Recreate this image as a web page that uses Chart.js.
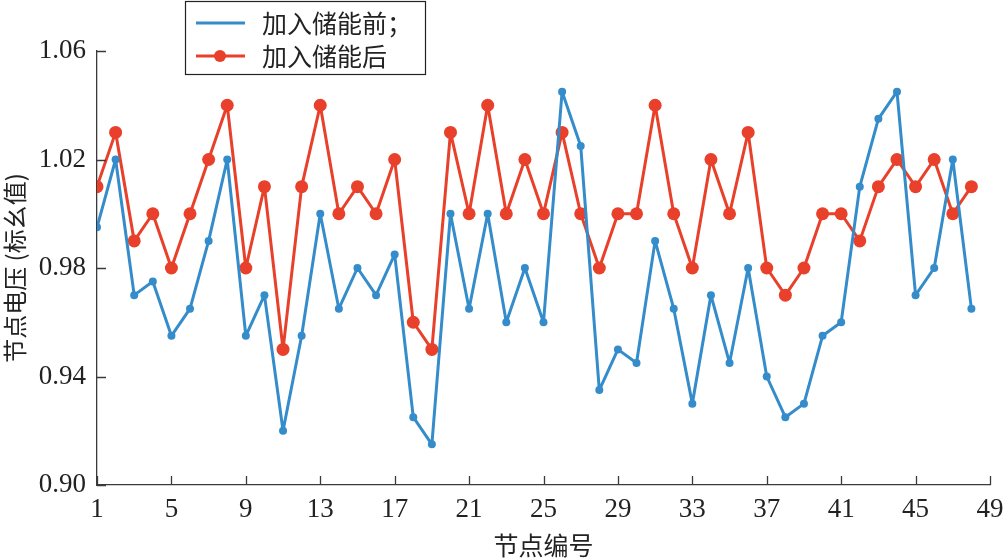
<!DOCTYPE html>
<html>
<head>
<meta charset="utf-8">
<script src="https://cdn.jsdelivr.net/npm/chart.js@4"></script>
<style>
  html, body { margin: 0; padding: 0; background: #fff; }
  #wrap { width: 1007px; height: 560px; position: relative; }
</style>
</head>
<body>
<div id="wrap"><canvas id="voltage"></canvas></div>
<script>
// node numbers and voltages (p.u.)
const nodes = [1, 2, 3, 4, 5, 6, 7, 8, 9, 10, 11, 12, 13, 14, 15, 16,
    17, 18, 19, 20, 21, 22, 23, 24, 25, 26, 27, 28, 29, 30, 31, 32,
    33, 34, 35, 36, 37, 38, 39, 40, 41, 42, 43, 44, 45, 46, 47, 48];

const beforeStorage = [0.995, 1.02, 0.97, 0.975, 0.955, 0.965, 0.99, 1.02,
    0.955, 0.97, 0.92, 0.955, 1.00, 0.965, 0.98, 0.97,
    0.985, 0.925, 0.915, 1.00, 0.965, 1.00, 0.96, 0.98,
    0.96, 1.045, 1.025, 0.935, 0.95, 0.945, 0.99, 0.965,
    0.93, 0.97, 0.945, 0.98, 0.94, 0.925, 0.93, 0.955,
    0.96, 1.01, 1.035, 1.045, 0.97, 0.98, 1.02, 0.965];

const afterStorage = [1.01, 1.03, 0.99, 1.00, 0.98, 1.00, 1.02, 1.04,
    0.98, 1.01, 0.95, 1.01, 1.04, 1.00, 1.01, 1.00,
    1.02, 0.96, 0.95, 1.03, 1.00, 1.04, 1.00, 1.02,
    1.00, 1.03, 1.00, 0.98, 1.00, 1.00, 1.04, 1.00,
    0.98, 1.02, 1.00, 1.03, 0.98, 0.97, 0.98, 1.00,
    1.00, 0.99, 1.01, 1.02, 1.01, 1.02, 1.00, 1.01];

const xTicks = [1, 5, 9, 13, 17, 21, 25, 29, 33, 37, 41, 45, 49];
const yTicks = [0.90, 0.94, 0.98, 1.02, 1.06];

const seriesNames = ['加入储能前；', '加入储能后'];

const blue = '#348ccb';
const red = '#e8402a';
const axisColor = '#3a3a3a';
const numFont = '"Liberation Serif", "DejaVu Serif", serif';
const cjkFont = '"Noto Sans CJK SC", "Liberation Serif", serif';

function toPoints(vals) {
    return nodes.map((n, i) => ({ x: n, y: vals[i] }));
}

// inward ticks + boxed legend, matlab style
const axesAndLegend = {
    id: 'axesAndLegend',
    afterDraw(chart) {
        const c = chart.ctx;
        const xs = chart.scales.x, ys = chart.scales.y;
        const area = chart.chartArea;
        const len = 9;
        c.save();
        c.strokeStyle = axisColor;
        c.lineWidth = 1.3;
        c.beginPath();
        xTicks.forEach(t => {
            const px = Math.round(xs.getPixelForValue(t)) + 0.5;
            c.moveTo(px, area.bottom);
            c.lineTo(px, area.bottom - len);
        });
        yTicks.forEach(t => {
            const py = Math.round(ys.getPixelForValue(t)) + 0.5;
            c.moveTo(area.left, py);
            c.lineTo(area.left + len, py);
        });
        c.stroke();

        // legend box
        const bx = 185, by = 1, bw = 240, bh = 73;
        c.fillStyle = '#fff';
        c.fillRect(bx, by, bw, bh);
        c.strokeStyle = '#222';
        c.lineWidth = 1.2;
        c.strokeRect(bx + 0.5, by + 0.5, bw, bh);

        const rows = [23, 56];
        chart.data.datasets.forEach((ds, i) => {
            const y = rows[i];
            c.strokeStyle = ds.borderColor;
            c.lineWidth = 3;
            c.beginPath();
            c.moveTo(196, y);
            c.lineTo(245, y);
            c.stroke();
            if (i === 1) {
                c.fillStyle = ds.pointBackgroundColor;
                c.beginPath();
                c.arc(220, y, 6, 0, Math.PI * 2);
                c.fill();
            }
            c.fillStyle = '#222';
            c.font = '25px ' + cjkFont;
            c.textBaseline = 'middle';
            c.textAlign = 'left';
            c.fillText(ds.label, 262, y);
        });
        c.restore();
    }
};

document.addEventListener('DOMContentLoaded', function () {
    const ctx = document.getElementById('voltage').getContext('2d');

    const chart = new Chart(ctx, {
        type: 'line',
        data: {
            datasets: [
                {
                    label: seriesNames[0],
                    data: toPoints(beforeStorage),
                    borderColor: blue,
                    backgroundColor: blue,
                    pointBackgroundColor: blue,
                    pointBorderWidth: 0,
                    pointRadius: 4,
                    borderWidth: 3,
                    borderJoinStyle: 'round',
                    tension: 0
                },
                {
                    label: seriesNames[1],
                    data: toPoints(afterStorage),
                    borderColor: red,
                    backgroundColor: red,
                    pointBackgroundColor: red,
                    pointBorderWidth: 0,
                    pointRadius: 6.5,
                    borderWidth: 3,
                    borderJoinStyle: 'round',
                    tension: 0
                }
            ]
        },
        options: {
            responsive: true,
            maintainAspectRatio: false,
            animation: false,
            layout: {
                padding: { left: 0, right: 17, top: 51, bottom: 0 }
            },
            plugins: {
                legend: { display: false },
                tooltip: { enabled: false }
            },
            scales: {
                x: {
                    type: 'linear',
                    min: 1,
                    max: 49,
                    afterBuildTicks: function (scale) {
                        scale.ticks = xTicks.map(v => ({ value: v }));
                    },
                    afterFit: function (scale) {
                        scale.height = 75;
                    },
                    grid: { display: false },
                    border: { display: true, color: axisColor, width: 1.3 },
                    ticks: {
                        color: '#222',
                        font: { family: numFont, size: 27 },
                        padding: 1,
                        maxRotation: 0,
                        autoSkip: false
                    },
                    title: {
                        display: true,
                        text: '节点编号',
                        color: '#222',
                        font: { family: cjkFont, size: 25 },
                        padding: { top: 0, bottom: 0 }
                    }
                },
                y: {
                    min: 0.90,
                    max: 1.06,
                    afterBuildTicks: function (scale) {
                        scale.ticks = yTicks.map(v => ({ value: v }));
                    },
                    afterFit: function (scale) {
                        scale.width = 97;
                    },
                    grid: { display: false },
                    border: { display: true, color: axisColor, width: 1.3 },
                    ticks: {
                        color: '#222',
                        font: { family: numFont, size: 27 },
                        padding: 3,
                        callback: function (value) {
                            return Number(value).toFixed(2);
                        }
                    },
                    title: {
                        display: true,
                        text: '节点电压 (标幺值)',
                        color: '#222',
                        font: { family: cjkFont, size: 24 },
                        padding: { top: 0, bottom: 0 }
                    }
                }
            }
        },
        plugins: [axesAndLegend]
    });
});
</script>
</body>
</html>
